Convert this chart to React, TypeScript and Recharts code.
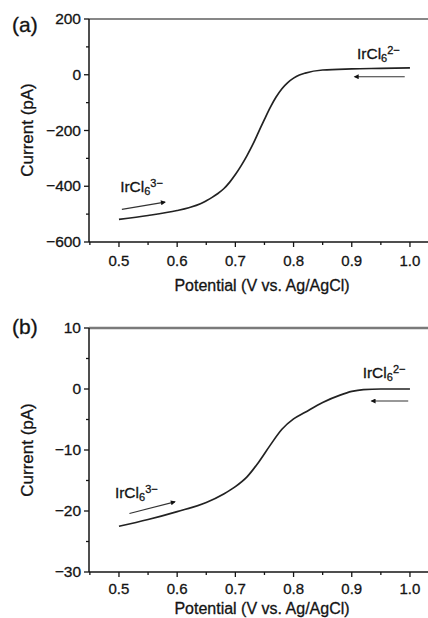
import React from 'react';
import { LineChart, Line, XAxis, YAxis, ReferenceLine, ReferenceDot } from 'recharts';

// ---------- data ----------
const potentialA = [0.5, 0.55, 0.6, 0.62, 0.64, 0.65, 0.66, 0.67, 0.68, 0.69, 0.7, 0.71, 0.72, 0.73, 0.74, 0.75, 0.76, 0.77, 0.78, 0.79, 0.8, 0.81, 0.82, 0.85, 0.9, 0.95, 1.0];
const currentA = [-519, -505, -487, -477, -463, -452, -440, -426, -409, -386, -358, -326, -290, -250, -205, -160, -117, -80, -50, -28, -12, -1, 6, 17, 21, 23, 25];

const potentialB = [0.5, 0.55, 0.6, 0.65, 0.68, 0.7, 0.72, 0.74, 0.76, 0.78, 0.8, 0.82, 0.85, 0.88, 0.9, 0.92, 0.95, 1.0];
const currentB = [-22.5, -21.4, -20.1, -18.6, -17.2, -16.0, -14.4, -12.0, -9.2, -6.6, -4.9, -3.8, -2.2, -1.0, -0.4, -0.1, 0, 0];

// arrows [x0, y0, x1, y1]
const arrowA3 = [0.505, -483, 0.579, -457];
const arrowA2 = [0.991, -7, 0.905, -7];
const arrowB3 = [0.518, -20.4, 0.596, -18.5];
const arrowB2 = [0.997, -1.97, 0.934, -1.97];

// label anchors [x, y, charge]
const labelA3 = [0.502, -419, '3\u2212'] as const;
const labelA2 = [0.909, 55, '2\u2212'] as const;
const labelB3 = [0.493, -17.9, '3\u2212'] as const;
const labelB2 = [0.9187, 1.75, '2\u2212'] as const;

const xMajorTicks = [0.5, 0.6, 0.7, 0.8, 0.9, 1.0];
const xMinorTicks = [0.45, 0.55, 0.65, 0.75, 0.85, 0.95];
const yMajorA = [-600, -400, -200, 0, 200];
const yMinorA = [-500, -300, -100, 100];
const yMajorB = [-30, -20, -10, 0, 10];
const yMinorB = [-25, -15, -5, 5];

const xDomain = [0.4485, 1.031];

const toPts = (xs: number[], ys: number[]) => xs.map((x, i) => ({ x, y: ys[i] }));
const arrowPts = (a: number[]) => [{ x: a[0], y: a[1] }, { x: a[2], y: a[3] }];

const FONT = '"Liberation Sans", Arial, sans-serif';
const INK = '#141414';
const TXT = { fontFamily: FONT, fill: INK, stroke: INK, strokeWidth: 0.3 };

const fmt = (v: number) => (v < 0 ? '\u2212' + Math.abs(v) : String(v));

const isIn = (arr: number[], v: number) => arr.some((a) => Math.abs(a - v) < 1e-9);

const makeXTick = (majors: number[], labelDy: number) => (props: any) => {
  const { x, y, payload } = props;
  const major = isIn(majors, payload.value);
  return (
    <g>
      <line x1={x} x2={x} y1={y} y2={y + (major ? 5 : 3)} stroke={INK} strokeWidth={1.3} />
      {major && (
        <text x={x} y={y + labelDy} textAnchor="middle" fontSize={15} {...TXT}>
          {payload.value.toFixed(1)}
        </text>
      )}
    </g>
  );
};

const makeYTick = (majors: number[]) => (props: any) => {
  const { x, y, payload } = props;
  const major = isIn(majors, payload.value);
  return (
    <g>
      <line x1={x} x2={x - (major ? 5 : 3)} y1={y} y2={y} stroke={INK} strokeWidth={1.3} />
      {major && (
        <text x={x - 8} y={y + 5} textAnchor="end" fontSize={15.5} {...TXT}>
          {fmt(payload.value)}
        </text>
      )}
    </g>
  );
};

const ionLabel = (charge: string) => (p: any) => (
  <text x={p.cx} y={p.cy} fontSize={15.5} {...TXT}>
    IrCl
    <tspan dy={3} fontSize={11}>6</tspan>
    <tspan dy={-8} fontSize={11}>{charge}</tspan>
  </text>
);

const Panel = ({
  data, yDomain, yMajor, yMinor, a3, a2, l3, l2, marginTop, marginBottom, height, topLine, topStroke, topWidth, labelDy,
}: any) => (
  <LineChart
    width={428}
    height={height}
    margin={{ top: marginTop, right: 0, bottom: marginBottom, left: 88 }}
  >
    <XAxis
      type="number"
      dataKey="x"
      domain={xDomain}
      allowDataOverflow
      ticks={[...xMajorTicks, ...xMinorTicks].sort((p, q) => p - q)}
      interval={0}
      height={1}
      tickSize={0}
      tickMargin={0}
      tickLine={false}
      axisLine={{ stroke: INK, strokeWidth: 1.5 }}
      tick={makeXTick(xMajorTicks, labelDy)}
    />
    <YAxis
      type="number"
      dataKey="y"
      domain={yDomain}
      allowDataOverflow
      ticks={[...yMajor, ...yMinor].sort((p: number, q: number) => p - q)}
      interval={0}
      width={1}
      tickSize={0}
      tickMargin={0}
      tickLine={false}
      axisLine={{ stroke: INK, strokeWidth: 1.5 }}
      tick={makeYTick(yMajor)}
    />
    <ReferenceLine y={topLine} stroke={topStroke} strokeWidth={topWidth} ifOverflow="visible" />
    <Line data={data} dataKey="y" type="monotone" stroke="#222" strokeWidth={1.7} dot={false} isAnimationActive={false} />
    <Line data={arrowPts(a3)} dataKey="y" type="linear" stroke="#333" strokeWidth={1.1} dot={false} markerEnd="url(#ah)" isAnimationActive={false} />
    <Line data={arrowPts(a2)} dataKey="y" type="linear" stroke="#333" strokeWidth={1.1} dot={false} markerEnd="url(#ah)" isAnimationActive={false} />
    <ReferenceDot x={l3[0]} y={l3[1]} r={0} ifOverflow="visible" shape={ionLabel(l3[2])} />
    <ReferenceDot x={l2[0]} y={l2[1]} r={0} ifOverflow="visible" shape={ionLabel(l2[2])} />
  </LineChart>
);

export default function App() {
  return (
    <div style={{ position: 'absolute', left: 0, top: 0, width: 428, height: 618, background: '#fff', overflow: 'hidden', fontFamily: FONT }}>
      <svg width={0} height={0} style={{ position: 'absolute' }}>
        <defs>
          <marker id="ah" viewBox="0 0 10 10" refX="8" refY="5" markerWidth="7" markerHeight="5" markerUnits="userSpaceOnUse" orient="auto">
            <path d="M0,0 L10,5 L0,10 z" fill="#111" />
          </marker>
        </defs>
      </svg>
      <div style={{ position: 'absolute', left: 0, top: 0 }}>
        <Panel
          data={toPts(potentialA, currentA)}
          yDomain={[-600, 200]}
          yMajor={yMajorA}
          yMinor={yMinorA}
          a3={arrowA3}
          a2={arrowA2}
          l3={labelA3}
          l2={labelA2}
          marginTop={19}
          marginBottom={57}
          height={300}
          topLine={200}
          topStroke="#111"
          topWidth={1.2}
          labelDy={24}
        />
      </div>
      <div style={{ position: 'absolute', left: 0, top: 300 }}>
        <Panel
          data={toPts(potentialB, currentB)}
          yDomain={[-30, 10]}
          yMajor={yMajorB}
          yMinor={yMinorB}
          a3={arrowB3}
          a2={arrowB2}
          l3={labelB3}
          l2={labelB2}
          marginTop={28}
          marginBottom={45}
          height={318}
          topLine={10}
          topStroke="#7a7a7a"
          topWidth={2.5}
          labelDy={22}
        />
      </div>
      <svg width={428} height={618} style={{ position: 'absolute', left: 0, top: 0, pointerEvents: 'none' }}>
        <text x={12} y={32} fontSize={21} {...TXT}>(a)</text>
        <text x={12} y={334} fontSize={21} {...TXT}>(b)</text>
        <text transform="translate(27,130) rotate(-90)" textAnchor="middle" dominantBaseline="central" fontSize={17} {...TXT}>Current (pA)</text>
        <text transform="translate(27,450) rotate(-90)" textAnchor="middle" dominantBaseline="central" fontSize={17} {...TXT}>Current (pA)</text>
        <text x={262} y={291} textAnchor="middle" fontSize={16} {...TXT}>Potential (V vs. Ag/AgCl)</text>
        <text x={262} y={614} textAnchor="middle" fontSize={16} {...TXT}>Potential (V vs. Ag/AgCl)</text>
      </svg>
    </div>
  );
}
